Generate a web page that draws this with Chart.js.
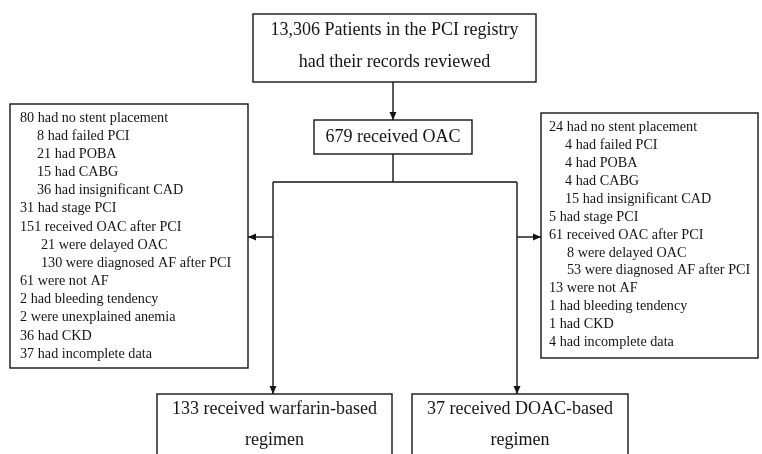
<!DOCTYPE html>
<html>
<head>
<meta charset="utf-8">
<script src="https://cdn.jsdelivr.net/npm/chart.js@4.4.1/dist/chart.umd.min.js"></script>
<style>
  html, body { margin: 0; padding: 0; background: #fff; }
  #wrap { width: 762px; height: 454px; }
</style>
</head>
<body>
<div id="wrap"><canvas id="flow"></canvas></div>
<script>
// Flow chart text
const registryLines = ["13,306 Patients in the PCI registry", "had their records reviewed"];
const oacLines = ["679 received OAC"];
const warfarinLines = ["133 received warfarin-based", "regimen"];
const doacLines = ["37 received DOAC-based", "regimen"];

// exclusion lists: [text, indent level]
const warfarinExcluded = [
  ["80 had no stent placement", 0],
  ["8 had failed PCI", 1],
  ["21 had POBA", 1],
  ["15 had CABG", 1],
  ["36 had insignificant CAD", 1],
  ["31 had stage PCI", 0],
  ["151 received OAC after PCI", 0],
  ["21 were delayed OAC", 2],
  ["130 were diagnosed AF after PCI", 2],
  ["61 were not AF", 0],
  ["2 had bleeding tendency", 0],
  ["2 were unexplained anemia", 0],
  ["36 had CKD", 0],
  ["37 had incomplete data", 0]
];
const doacExcluded = [
  ["24 had no stent placement", 0],
  ["4 had failed PCI", 1],
  ["4 had POBA", 1],
  ["4 had CABG", 1],
  ["15 had insignificant CAD", 1],
  ["5 had stage PCI", 0],
  ["61 received OAC after PCI", 0],
  ["8 were delayed OAC", 2],
  ["53 were diagnosed AF after PCI", 2],
  ["13 were not AF", 0],
  ["1 had bleeding tendency", 0],
  ["1 had CKD", 0],
  ["4 had incomplete data", 0]
];

// layout in scale units (same as page pixels)
const boxes = [
  { lines: registryLines, x0: 253, y0: 14, x1: 536, y1: 82, size: 18, lead: 32, first: 30, align: "center" },
  { lines: oacLines, x0: 314, y0: 120, x1: 472, y1: 154, size: 18, lead: 0, first: 137, align: "center" },
  { lines: warfarinLines, x0: 157, y0: 394, x1: 392, y1: 470, size: 18, lead: 31, first: 409, align: "center" },
  { lines: doacLines, x0: 412, y0: 394, x1: 628, y1: 470, size: 18, lead: 31, first: 409, align: "center" },
  { lines: warfarinExcluded, x0: 10, y0: 104, x1: 248, y1: 368, size: 14.2, lead: 18.15, first: 118, align: "left", tx: 20, indent: [0, 17, 21] },
  { lines: doacExcluded, x0: 541, y0: 113, x1: 758, y1: 358, size: 14.2, lead: 17.9, first: 127.5, align: "left", tx: 549, indent: [0, 16, 18] }
];
// connectors: polylines, arrow at the last point
const links = [
  { pts: [[393, 82], [393, 120]], arrow: true },
  { pts: [[393, 154], [393, 182]], arrow: false },
  { pts: [[273, 182], [517, 182]], arrow: false },
  { pts: [[273, 182], [273, 394]], arrow: true },
  { pts: [[517, 182], [517, 394]], arrow: true },
  { pts: [[273, 237], [248, 237]], arrow: true },
  { pts: [[517, 237], [541, 237]], arrow: true }
];

const INK = "#141414";
const SERIF = "'Liberation Serif', 'Times New Roman', 'DejaVu Serif', serif";

const flowPlugin = {
  id: "flow",
  afterDatasetsDraw(chart) {
    const ctx = chart.ctx;
    const sx = chart.scales.x, sy = chart.scales.y;
    const px = v => sx.getPixelForValue(v);
    const py = v => sy.getPixelForValue(v);
    ctx.save();
    ctx.strokeStyle = INK;
    ctx.fillStyle = INK;
    ctx.lineWidth = 1.4;

    boxes.forEach(b => {
      ctx.strokeRect(px(b.x0), py(b.y0), px(b.x1) - px(b.x0), py(b.y1) - py(b.y0));
      ctx.font = b.size + "px " + SERIF;
      ctx.textBaseline = "middle";
      b.lines.forEach((ln, i) => {
        const text = Array.isArray(ln) ? ln[0] : ln;
        const level = Array.isArray(ln) ? ln[1] : 0;
        const y = py(b.first + i * b.lead);
        if (b.align === "center") {
          ctx.textAlign = "center";
          ctx.fillText(text, px((b.x0 + b.x1) / 2), y);
        } else {
          ctx.textAlign = "left";
          ctx.fillText(text, px(b.tx + b.indent[level]), y);
        }
      });
    });

    links.forEach(l => {
      ctx.beginPath();
      l.pts.forEach((p, i) => {
        if (i === 0) ctx.moveTo(px(p[0]), py(p[1]));
        else ctx.lineTo(px(p[0]), py(p[1]));
      });
      ctx.stroke();
      if (l.arrow) {
        const a = l.pts[l.pts.length - 2], b = l.pts[l.pts.length - 1];
        const x1 = px(b[0]), y1 = py(b[1]);
        const ang = Math.atan2(y1 - py(a[1]), x1 - px(a[0]));
        const len = 8, half = 3.5;
        ctx.beginPath();
        ctx.moveTo(x1, y1);
        ctx.lineTo(x1 - len * Math.cos(ang) + half * Math.sin(ang), y1 - len * Math.sin(ang) - half * Math.cos(ang));
        ctx.lineTo(x1 - len * Math.cos(ang) - half * Math.sin(ang), y1 - len * Math.sin(ang) + half * Math.cos(ang));
        ctx.closePath();
        ctx.fill();
      }
    });
    ctx.restore();
  }
};

new Chart(document.getElementById("flow"), {
  type: "scatter",
  data: { datasets: [{ data: [], pointRadius: 0 }] },
  options: {
    responsive: true,
    maintainAspectRatio: false,
    animation: false,
    layout: { padding: 0 },
    plugins: { legend: { display: false }, tooltip: { enabled: false } },
    scales: {
      x: { type: "linear", min: 0, max: 762, display: false },
      y: { type: "linear", min: 0, max: 454, reverse: true, display: false }
    }
  },
  plugins: [flowPlugin]
});
</script>
</body>
</html>
